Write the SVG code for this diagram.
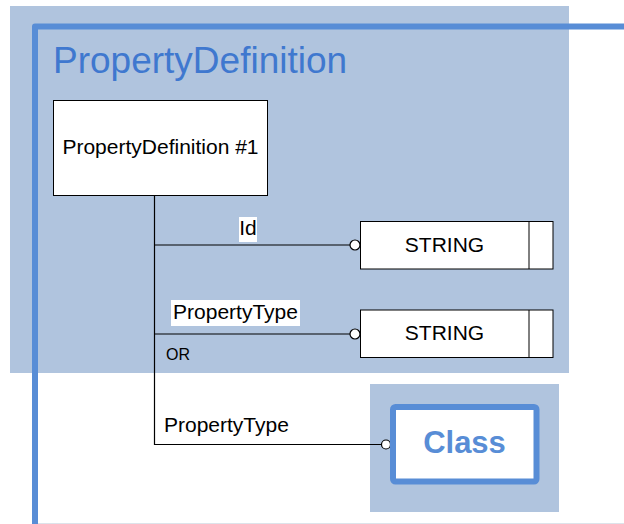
<svg xmlns="http://www.w3.org/2000/svg" width="624" height="524" viewBox="0 0 624 524">
<style>
text{font-family:"Liberation Sans",Arial,sans-serif;}
.bg{fill:#b0c4de;}
.box{fill:#ffffff;stroke:#000000;stroke-width:1;}
.lbl{font-size:21px;fill:#000000;}
.conn{fill:none;stroke:#000000;stroke-width:1.2;}
.end{fill:#ffffff;stroke:#000000;stroke-width:1.2;}
</style>
<rect class="bg" x="10" y="6" width="559" height="367"/>
<rect class="bg" x="370" y="384" width="189" height="128"/>
<line x1="38" y1="523.5" x2="624" y2="523.5" stroke="#dde3ea" stroke-width="1"/>
<path d="M35 524 L35 26.5 L624 26.5" fill="none" stroke="#588dd6" stroke-width="6" stroke-linejoin="round"/>
<text x="53" y="73" font-size="37" fill="#3f78cf">PropertyDefinition</text>
<g id="connectors">
  <path class="conn" d="M154.5 195 L154.5 444.5 L382 444.5"/>
  <line class="conn" x1="154.5" y1="245" x2="350" y2="245"/>
  <line class="conn" x1="154.5" y1="334" x2="350" y2="334" stroke="#3a3a3a" stroke-width="1.6"/>
  <circle class="end" cx="355" cy="245" r="5"/>
  <circle class="end" cx="355" cy="334" r="5"/>
  <circle class="end" cx="386" cy="444.5" r="4.5"/>
  <rect x="239" y="217" width="18" height="25" fill="#ffffff"/>
  <text class="lbl" x="248" y="235" text-anchor="middle">Id</text>
  <rect x="171" y="300" width="129" height="26" fill="#ffffff"/>
  <text class="lbl" x="235.5" y="318.5" text-anchor="middle">PropertyType</text>
  <text x="166" y="359.5" font-size="16" fill="#000000">OR</text>
  <text class="lbl" x="164" y="432">PropertyType</text>
</g>
<g id="node-propdef">
  <rect class="box" x="53.5" y="100.5" width="214" height="95"/>
  <text class="lbl" x="160.5" y="154" text-anchor="middle">PropertyDefinition #1</text>
</g>
<g id="node-string1">
  <rect class="box" x="360.5" y="221.5" width="192.5" height="47.5"/>
  <line x1="529" y1="221.5" x2="529" y2="269" stroke="#000" stroke-width="1"/>
  <text class="lbl" x="444.5" y="252" text-anchor="middle">STRING</text>
</g>
<g id="node-string2">
  <rect class="box" x="360.5" y="310" width="192.5" height="47.5"/>
  <line x1="529" y1="310" x2="529" y2="357.5" stroke="#000" stroke-width="1"/>
  <text class="lbl" x="444.5" y="339.5" text-anchor="middle">STRING</text>
</g>
<g id="node-class">
  <rect x="393" y="407" width="143.5" height="74.5" rx="2.5" fill="#ffffff" stroke="#588dd6" stroke-width="6"/>
  <text x="464.5" y="453" font-size="31" font-weight="bold" fill="#588dd6" text-anchor="middle">Class</text>
</g>
</svg>
